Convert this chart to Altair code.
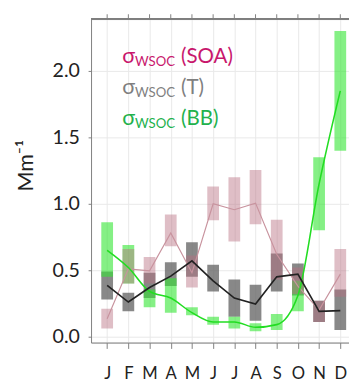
import altair as alt
import pandas as pd

months = ["J", "F", "M", "A", "M", "J", "J", "A", "S", "O", "N", "D"]
month_idx = list(range(1, 13))

# SOA (pink)
soa_lo = [0.06, 0.40, 0.40, 0.68, 0.37, 0.875, 0.715, 0.845, 0.43, 0.32, 0.11, 0.30]
soa_hi = [0.21, 0.66, 0.60, 0.92, 0.61, 1.13, 1.20, 1.255, 0.88, 0.52, 0.27, 0.66]
soa_mid = [0.135, 0.51, 0.495, 0.78, 0.48, 1.0, 0.955, 1.005, 0.62, 0.38, 0.20, 0.47]

# T (gray)
t_lo = [0.28, 0.19, 0.29, 0.38, 0.45, 0.34, 0.15, 0.12, 0.34, 0.31, 0.11, 0.05]
t_hi = [0.49, 0.33, 0.48, 0.56, 0.71, 0.54, 0.43, 0.39, 0.625, 0.55, 0.27, 0.355]
t_mid = [0.385, 0.26, 0.37, 0.455, 0.57, 0.42, 0.29, 0.245, 0.45, 0.47, 0.19, 0.195]

# BB (green)
bb_lo = [0.45, 0.40, 0.22, 0.18, 0.16, 0.09, 0.06, 0.04, 0.05, 0.19, 0.80, 1.40]
bb_hi = [0.86, 0.69, 0.355, 0.44, 0.22, 0.15, 0.15, 0.10, 0.17, 0.42, 1.35, 2.30]
bb_mid = [0.65, 0.52, 0.34, 0.29, 0.18, 0.11, 0.11, 0.07, 0.09, 0.31, 1.15, 1.85]

def frame(lo, hi, mid):
    return pd.DataFrame({"m": month_idx, "lo": lo, "hi": hi, "mid": mid})

soa = frame(soa_lo, soa_hi, soa_mid)
tt = frame(t_lo, t_hi, t_mid)
bb = frame(bb_lo, bb_hi, bb_mid)

FONT = "Lato"
AX = "#808080"
label_expr = "[" + ",".join("'%s'" % m for m in months) + "][datum.value - 1]"

xscale = alt.Scale(domain=[0.47, 12.18], nice=False, zero=False)
yscale = alt.Scale(domain=[-0.045, 2.39], nice=False, zero=False)

x_axis = alt.Axis(
    values=month_idx, labelExpr=label_expr, title=None, orient="bottom",
    grid=True, gridColor="#e8e8e8", gridWidth=1,
    domainColor=AX, tickColor=AX, tickSize=6,
    labelFont=FONT, labelFontSize=17, labelColor="#222222", labelPadding=18,
    labelAngle=0, labelFlush=False, labelOverlap=False)
y_axis = alt.Axis(
    values=[0, 0.5, 1.0, 1.5, 2.0], format=".1f", title=None,
    grid=True, gridColor="#e8e8e8", gridWidth=1,
    domainColor=AX, tickColor=AX, tickSize=3,
    labelFont=FONT, labelFontSize=20, labelColor="#222222", labelPadding=9)

def X():
    return alt.X("m:Q", scale=xscale, axis=x_axis)

def Y(field):
    return alt.Y(field + ":Q", scale=yscale, axis=y_axis)

def bars(df, color, op):
    return alt.Chart(df).mark_bar(size=12, color=color, opacity=op, clip=True).encode(
        x=X(), y=Y("lo"), y2="hi:Q")

def line(df, color, w, interp="linear"):
    return alt.Chart(df).mark_line(color=color, strokeWidth=w, clip=True, interpolate=interp).encode(
        x=X(), y=Y("mid"))

# top frame line with outward ticks at each month
top_line = alt.Chart(tt).mark_rule(color=AX, strokeWidth=1).encode(
    x=alt.value(0), x2=alt.value(264), y=alt.value(0))
top_ticks = alt.Chart(tt).mark_rule(color=AX, strokeWidth=1).encode(
    x=X(), y=alt.value(-5), y2=alt.value(0))

one = pd.DataFrame({"m": [1]})
y_title = alt.Chart(one).mark_text(
    text="Mm⁻¹", font=FONT, fontSize=22, color="#222222", angle=270,
    align="center", baseline="middle"
).encode(x=alt.value(-66), y=alt.value(150))

leg_rows = [
    ("(SOA)", "#c8176c", 45),
    ("(T)", "#7f7f7f", 77),
    ("(BB)", "#22b14c", 108),
]
legend_layers = []
for txt, col, yb in leg_rows:
    legend_layers.append(alt.Chart(one).mark_text(
        text="σ", font=FONT, fontSize=22, color=col, align="left", baseline="alphabetic"
    ).encode(x=alt.value(32), y=alt.value(yb)))
    legend_layers.append(alt.Chart(one).mark_text(
        text="WSOC", font=FONT, fontSize=13.5, color=col, align="left", baseline="alphabetic"
    ).encode(x=alt.value(45), y=alt.value(yb + 3)))
    legend_layers.append(alt.Chart(one).mark_text(
        text=txt, font=FONT, fontSize=21, color=col, align="left", baseline="alphabetic"
    ).encode(x=alt.value(92), y=alt.value(yb)))

chart = alt.layer(
    bars(tt, "#666666", 0.78),
    bars(bb, "#33e633", 0.6),
    bars(soa, "#b86e80", 0.45),
    line(soa, "#c8939e", 1.2),
    line(bb, "#22dd22", 1.6, "monotone"),
    line(tt, "#222222", 1.7),
    top_line,
    top_ticks,
    y_title,
    *legend_layers,
).properties(
    width=264, height=331,
    autosize=alt.AutoSizeParams(type="none"),
    padding={"left": 85, "top": 7, "right": 0, "bottom": 38},
).configure_view(stroke=None).configure(background="white")

chart.save("out.html", embed_options={"renderer": "svg", "actions": False})
